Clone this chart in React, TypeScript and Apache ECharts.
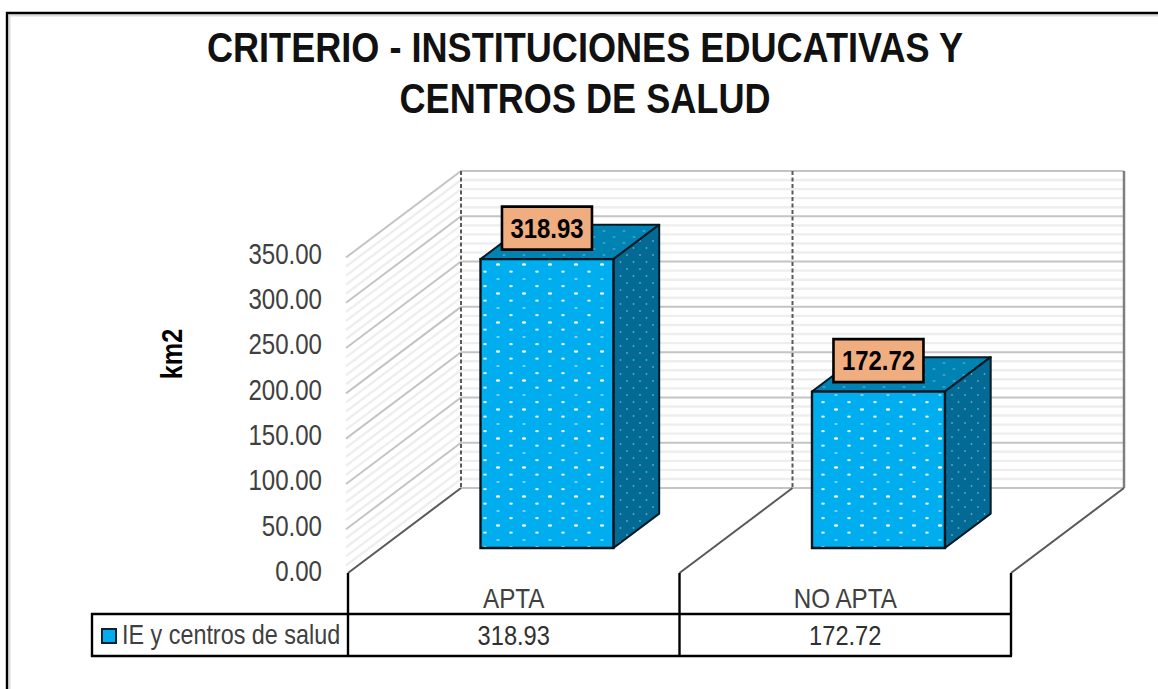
import React, { useEffect, useRef } from "react";
import * as echarts from "echarts";

const titleLines = ["CRITERIO - INSTITUCIONES EDUCATIVAS Y", "CENTROS DE SALUD"];
const categories = ["APTA", "NO APTA"];
const seriesName = "IE y centros de salud";
const values = [318.93, 172.72];
const yTicks = [0, 50, 100, 150, 200, 250, 300, 350];
const minorGrid = [0, 10, 20, 30, 40, 50, 60, 70, 80, 90, 100, 110, 120, 130, 140, 150, 160, 170, 180, 190, 200, 210, 220, 230, 240, 250, 260, 270, 280, 290, 300, 310, 320, 330, 340, 350];
const yAxisName = "km2";

const FONT = "'Liberation Sans', Arial, sans-serif";
const DX = 113, DY = -85;

function tile(w: number, h: number, bg: string, draw: (c: CanvasRenderingContext2D) => void) {
  const cv = document.createElement("canvas");
  cv.width = w; cv.height = h;
  const c = cv.getContext("2d")!;
  c.fillStyle = bg; c.fillRect(0, 0, w, h);
  draw(c);
  return cv;
}
function dot(c: CanvasRenderingContext2D, x: number, y: number, w: number, h: number, col: string) {
  c.fillStyle = col;
  c.beginPath(); c.ellipse(x, y, w, h, 0, 0, Math.PI * 2); c.fill();
}
function narrowText(x: number, y: number, text: string, font: string, fill: string, align = "center", scaleX = 0.85) {
  return {
    type: "text", x, y, scaleX, scaleY: 1,
    style: { x: 0, y: 0, text, align, verticalAlign: "middle", fill, font },
  };
}

export default function App() {
  const ref = useRef<HTMLDivElement>(null);
  useEffect(() => {
    document.body.style.margin = "0";
    const chart = echarts.init(ref.current!, undefined, { renderer: "svg" });

    const frontTile = tile(26, 29, "#00aeef", (c) => {
      dot(c, 4, 3.5, 2.2, 1.2, "#f4fcff");
      dot(c, 17, 10.7, 1.9, 1.1, "#d8f3ff");
      dot(c, 4, 18, 1.8, 0.8, "#a8e4fb");
      dot(c, 17, 25.2, 1.9, 1.1, "#d8f3ff");
    });
    const sideTile = tile(13, 14, "#026a95", (c) => {
      dot(c, 3, 3, 0.9, 1.1, "#6aa6be");
      dot(c, 9.5, 10, 0.9, 1.1, "#6aa6be");
    });
    const topTile = tile(20, 12, "#0082b3", (c) => {
      dot(c, 4, 3, 1.6, 0.8, "#55aed0");
      dot(c, 14, 9, 1.6, 0.8, "#55aed0");
    });

    const wallItem = (params: any, api: any) => {
      const cs = params.coordSys;
      const v = api.value(1);
      const major = v % 50 === 0;
      const y = api.coord([0, v])[1];
      const left = cs.x, right = cs.x + cs.width;
      const color = major ? "#c4c4c4" : "#eeeeee";
      if (v === 0) {
        return {
          type: "line",
          shape: { x1: left + DX, y1: y + DY, x2: right + DX, y2: y + DY },
          style: { stroke: "#c4c4c4", lineWidth: 2 },
        };
      }
      return {
        type: "polyline",
        shape: { points: [[left - 2, y + 1.5], [left + DX, y + DY], [right + DX, y + DY]] },
        style: { fill: "none", stroke: color, lineWidth: major ? 2 : 2.4 },
      };
    };

    const edgeItem = (params: any) => {
      const cs = params.coordSys;
      const i = params.dataIndex;
      const band = cs.width / categories.length;
      const x = cs.x + i * band;
      const y0 = cs.y + cs.height;
      const last = i === categories.length;
      return {
        type: "group",
        children: [
          {
            type: "line",
            shape: { x1: x + DX, y1: cs.y + DY, x2: x + DX, y2: y0 + DY },
            style: { stroke: last ? "#7f7f7f" : "#595959", lineWidth: last ? 2.5 : 2, lineDash: last ? null : [4, 2.5] },
          },
          {
            type: "line",
            shape: { x1: x, y1: y0, x2: x + DX, y2: y0 + DY },
            style: { stroke: "#595959", lineWidth: 2 },
          },
          {
            type: "line",
            shape: { x1: x, y1: y0, x2: x, y2: y0 + 83 },
            style: { stroke: "#000", lineWidth: 2.4 },
          },
        ],
      };
    };

    const barItem = (params: any, api: any) => {
      const idx = api.value(0), v = api.value(1);
      const band = api.size([1, 0])[0];
      const base = api.coord([idx, 0]);
      const top = api.coord([idx, v]);
      const w = band * 0.401;
      const d0 = 0.294, d1 = 0.405;
      const xl = base[0] + d0 * DX - w / 2;
      const xr = xl + w;
      const yb = base[1] + d0 * DY;
      const yt = top[1] + d0 * DY;
      const sx = d1 * DX, sy = d1 * DY;
      const edge = "#041a24";
      const box = { w: 90, h: 43 };
      const cx = (xl + xr) / 2;
      return {
        type: "group",
        children: [
          {
            type: "polygon",
            shape: { points: [[xl, yt], [xr, yt], [xr + sx, yt + sy], [xl + sx, yt + sy]] },
            style: { fill: { image: topTile, repeat: "repeat", x: xl, y: yt }, stroke: edge, lineWidth: 2, lineJoin: "round" },
          },
          {
            type: "polygon",
            shape: { points: [[xr, yt], [xr + sx, yt + sy], [xr + sx, yb + sy], [xr, yb]] },
            style: { fill: { image: sideTile, repeat: "repeat", x: xr, y: yt }, stroke: edge, lineWidth: 2, lineJoin: "round" },
          },
          {
            type: "rect",
            shape: { x: xl, y: yt, width: w, height: yb - yt },
            style: { fill: { image: frontTile, repeat: "repeat", x: xl + 8, y: yt + 5 }, stroke: "#02141c", lineWidth: 2.4 },
          },
          {
            type: "rect",
            shape: { x: cx - box.w / 2, y: yt - 31 - box.h / 2, width: box.w, height: box.h },
            style: { fill: "#f0ad80", stroke: "#000", lineWidth: 2.6 },
          },
          narrowText(cx, yt - 31, v.toFixed(2), `bold 28.5px ${FONT}`, "#000", "center", 0.84),
        ],
      };
    };

    const tableItem = (params: any, api: any) => {
      const idx = api.value(0), v = api.value(1);
      const cs = params.coordSys;
      const base = api.coord([idx, 0]);
      const y0 = cs.y + cs.height;
      return {
        type: "group",
        children: [
          narrowText(base[0], y0 + 62, v.toFixed(2), `28.5px ${FONT}`, "#303030", "center", 0.83),
          narrowText(base[0], y0 + 25, categories[idx], `28.5px ${FONT}`, "#404040", "center", 0.85),
        ],
      };
    };

    const tickItem = (params: any, api: any) => {
      const cs = params.coordSys;
      const v = api.value(1);
      const y = api.coord([0, v])[1];
      return narrowText(cs.x - 26, y - 2, v.toFixed(2), `29px ${FONT}`, "#404040", "right", 0.83);
    };

    chart.setOption({
      animation: false,
      backgroundColor: "#fff",
      grid: { left: 348, right: 147, top: 256, bottom: 116, containLabel: false },
      xAxis: {
        type: "category",
        data: categories,
        axisLine: { show: false },
        axisTick: { show: false },
        axisLabel: { show: false },
      },
      yAxis: {
        type: "value",
        min: 0,
        max: 350,
        interval: 50,
        axisLine: { show: false },
        axisTick: { show: false },
        splitLine: { show: false },
        axisLabel: { show: false },
      },
      legend: {
        show: true,
        left: 96,
        top: 623,
        itemWidth: 14,
        itemHeight: 14,
        icon: "rect",
        data: [{ name: seriesName, itemStyle: { color: "#00aeef", borderColor: "#06222f", borderWidth: 2 } }],
        formatter: () => " ",
        textStyle: { fontSize: 14 },
      },
      series: [
        {
          type: "custom", name: "walls", silent: true, renderItem: wallItem,
          data: minorGrid.map((v) => [0, v]), encode: { x: 0, y: 1 }, z: 1,
        },
        {
          type: "custom", name: "edges", silent: true, renderItem: edgeItem,
          data: [0, 1, 2].map(() => [0, 0]), encode: { x: 0, y: 1 }, z: 2,
        },
        {
          type: "custom", name: seriesName, silent: true, renderItem: barItem,
          itemStyle: { color: "#00aeef" },
          data: categories.map((_, i) => [i, values[i]]), encode: { x: 0, y: 1 }, z: 3,
        },
        {
          type: "custom", name: "table", silent: true, renderItem: tableItem,
          data: categories.map((_, i) => [i, values[i]]), encode: { x: 0, y: 1 }, z: 3,
        },
        {
          type: "custom", name: "ticks", silent: true, renderItem: tickItem,
          data: yTicks.map((v) => [0, v]), encode: { x: 0, y: 1 }, z: 3,
        },
      ],
      graphic: [
        { type: "polyline", shape: { points: [[9.5, 689], [9.5, 15.5], [1158, 15.5]] }, style: { fill: "none", stroke: "#dcdcdc", lineWidth: 2 }, z: 0 },
        { type: "polyline", shape: { points: [[7, 689], [7, 13], [1158, 13]] }, style: { fill: "none", stroke: "#000", lineWidth: 2.4 }, z: 0 },
        { type: "line", shape: { x1: 91, y1: 614, x2: 1012, y2: 614 }, style: { stroke: "#000", lineWidth: 2.4 }, z: 5 },
        { type: "line", shape: { x1: 91, y1: 656, x2: 1012, y2: 656 }, style: { stroke: "#000", lineWidth: 2.4 }, z: 5 },
        { type: "line", shape: { x1: 92, y1: 613, x2: 92, y2: 657 }, style: { stroke: "#000", lineWidth: 2.4 }, z: 5 },
        { ...narrowText(585, 47, titleLines[0], `bold 43px ${FONT}`, "#111", "center", 0.84), z: 6 },
        { ...narrowText(585, 98, titleLines[1], `bold 43px ${FONT}`, "#111", "center", 0.84), z: 6 },
        { ...narrowText(122, 634, seriesName, `28.5px ${FONT}`, "#404040", "left", 0.82), z: 6 },
        {
          type: "text", x: 172, y: 354, rotation: Math.PI / 2, scaleX: 0.87, scaleY: 1, z: 6,
          style: { x: 0, y: 0, text: yAxisName, align: "center", verticalAlign: "middle", fill: "#000", font: `bold 29px ${FONT}` },
        },
      ],
    });
    return () => chart.dispose();
  }, []);
  return <div ref={ref} style={{ position: "absolute", left: 0, top: 0, width: 1158, height: 689 }} />;
}
